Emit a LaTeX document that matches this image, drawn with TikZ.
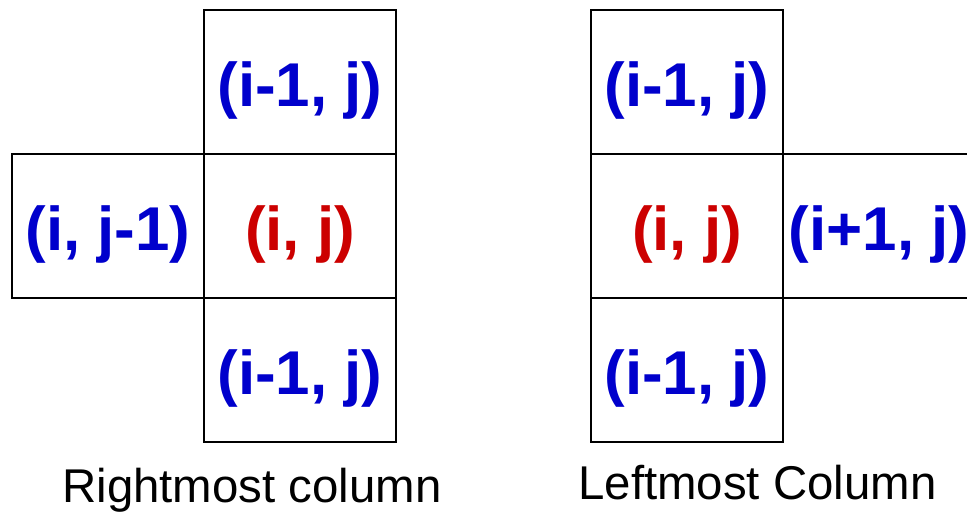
\documentclass[tikz,border=0pt]{standalone}
\usepackage{fontspec}
\setmainfont{Liberation Sans}
\usetikzlibrary{positioning}
\definecolor{cellblue}{RGB}{0,0,204}
\definecolor{cellred}{RGB}{204,0,0}
\tikzset{
  cell/.style={shape=rectangle,draw,line width=1.4pt,minimum width=4.8cm,minimum height=3.6cm,
    inner sep=0pt,text height=1.2cm,text depth=0cm,font=\fontsize{44}{48}\selectfont\bfseries},
  nbr/.style={cell,text=cellblue},
  ctr/.style={cell,text=cellred},
  caption/.style={anchor=base,font=\fontsize{33.7}{40}\selectfont}
}
\begin{document}
\begin{tikzpicture}[x=0.025cm,y=-0.025cm]
\useasboundingbox (0,0) rectangle (967,515);
\clip (0,0) rectangle (967,515);

% rightmost column
\node[nbr] (RT) at (300,82) {(i-1, j)};
\node[ctr] (RC) at (300,226) {(i, j)};
\node[nbr] (RB) at (300,370) {(i-1, j)};
\node[nbr] (RL) at (108,226) {(i, j-1)};
\node[caption] (RLab) at (252,502) {Rightmost column};

% leftmost column
\node[nbr] (LT) at (687,82) {(i-1, j)};
\node[ctr] (LC) at (687,226) {(i, j)};
\node[nbr] (LB) at (687,370) {(i-1, j)};
\node[nbr] (LR) at (879,226) {(i+1, j)};
\node[caption] (LLab) at (757.5,499) {Leftmost Column};
\end{tikzpicture}
\end{document}
